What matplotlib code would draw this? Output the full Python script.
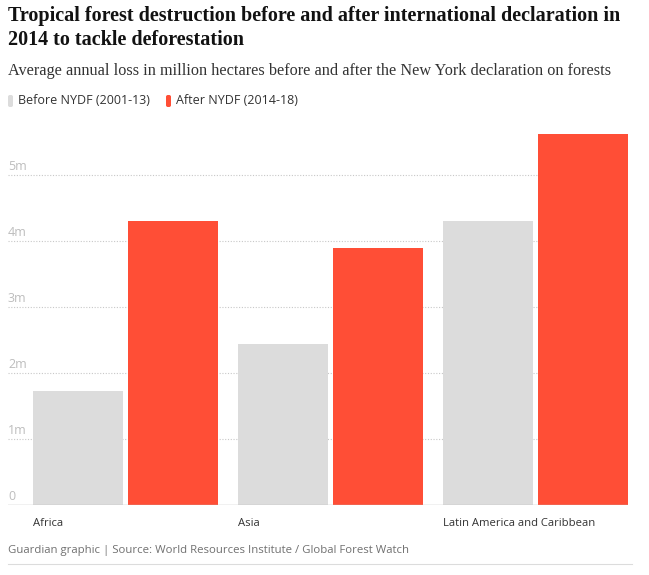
import matplotlib
matplotlib.use("Agg")
import matplotlib.pyplot as plt
import matplotlib.patches as mpatches
import matplotlib.transforms as mtransforms
import numpy as np

W, H = 649, 575
GREY = "#dcdcdc"
RED = "#ff4e36"
TICK_COLOR = "#bdbdbd"
TEXT_COLOR = "#121212"
SUB_COLOR = "#333333"

regions = ["Africa", "Asia", "Latin America and Caribbean"]
before = [1.73, 2.44, 4.30]
after = [4.30, 3.89, 5.62]
yticks = [0, 1, 2, 3, 4, 5]
ytick_labels = ["0", "1m", "2m", "3m", "4m", "5m"]


def px(x, y):
    # pixel coords (top-left origin) -> figure fraction
    return x / W, 1 - y / H


fig = plt.figure(figsize=(W / 100, H / 100), dpi=100)
fig.patch.set_facecolor("white")

# plot area: x 8..628, y 125..505
left, top = px(8, 125)
right, bottom = px(628, 505)
ax = fig.add_axes([left, bottom, right - left, top - bottom])

x = np.arange(len(regions))
bw = 90 / 205
off = 47.5 / 205
ax.bar(x - off, before, width=bw, color=GREY, zorder=2)
ax.bar(x + off, after, width=bw, color=RED, zorder=2)

ax.set_xlim(-117.5 / 205, 2 + 92.5 / 205)
ax.set_ylim(0, 380 / 66)

for v in yticks[1:]:
    ax.axhline(v, color="#c8c8c8", linestyle=(0, (1, 1.5)), linewidth=0.8, zorder=1)
ax.axhline(0, color="#bababa", linewidth=1, zorder=3)

offset = mtransforms.offset_copy(ax.transData, fig=fig, x=0, y=1.5, units="points")
for v, lab in zip(yticks, ytick_labels):
    ax.text(ax.get_xlim()[0], v, lab, transform=offset, ha="left", va="bottom",
            fontsize=9, color=TICK_COLOR, family="Open Sans")

for xi, name in zip(x, regions):
    ax.text(xi - off - bw / 2, -0.19, name, ha="left", va="top",
            fontsize=8.1, color="#333333", family="Open Sans")

ax.set_xticks([])
ax.set_yticks([])
for s in ax.spines.values():
    s.set_visible(False)

# title / subtitle
fig.text(*px(8, 21), "Tropical forest destruction before and after international declaration in",
         ha="left", va="baseline", fontsize=14.5, fontweight="bold",
         family="Liberation Serif", color=TEXT_COLOR)
fig.text(*px(8, 45), "2014 to tackle deforestation",
         ha="left", va="baseline", fontsize=14.5, fontweight="bold",
         family="Liberation Serif", color=TEXT_COLOR)
fig.text(*px(8, 75), "Average annual loss in million hectares before and after the New York declaration on forests",
         ha="left", va="baseline", fontsize=11.7, family="Liberation Serif", color=SUB_COLOR)

# legend
for lx, tx, col, lab in [(8, 18, GREY, "Before NYDF (2001-13)"),
                         (166, 176, RED, "After NYDF (2014-18)")]:
    x0, y0 = px(lx, 107)
    fig.patches.append(mpatches.FancyBboxPatch(
        (x0, y0), 5 / W, 12 / H, boxstyle="round,pad=0,rounding_size=0.003",
        transform=fig.transFigure, facecolor=col, edgecolor="none"))
    fig.text(*px(tx, 101), lab, ha="left", va="center", fontsize=9,
             family="Open Sans", color="#333333")

# footer
fig.text(*px(8, 551), "Guardian graphic | Source: World Resources Institute / Global Forest Watch",
         ha="left", va="center", fontsize=8.2, family="Open Sans", color="#707070")
fig.add_artist(plt.Line2D([8 / W, 632 / W], [1 - 564 / H] * 2, color="#dcdcdc",
                          linewidth=0.8, transform=fig.transFigure))

fig.savefig("out.png", dpi=100, facecolor="white")
